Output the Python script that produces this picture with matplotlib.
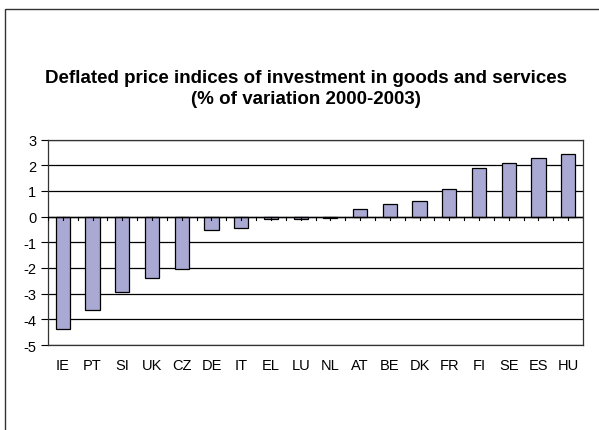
import matplotlib.pyplot as plt
import matplotlib.patches as mpatches
import numpy as np

plt.rcParams['font.family'] = ['Liberation Sans', 'DejaVu Sans']
plt.rcParams['axes.unicode_minus'] = False

# data
countries = ['IE', 'PT', 'SI', 'UK', 'CZ', 'DE', 'IT', 'EL', 'LU', 'NL',
             'AT', 'BE', 'DK', 'FR', 'FI', 'SE', 'ES', 'HU']
values = [-4.38, -3.62, -2.93, -2.41, -2.05, -0.52, -0.43, -0.1, -0.1, -0.05,
          0.29, 0.5, 0.62, 1.09, 1.9, 2.09, 2.27, 2.42]

fig = plt.figure(figsize=(5.99, 4.31), dpi=100)
ax = fig.add_axes([48/599, 1-346/431, (583-48)/599, (346-140.5)/431])

x = np.arange(len(countries))
ax.bar(x, values, width=0.48, color='#a9a9d3', edgecolor='black', linewidth=0.9, zorder=3)

ax.set_xlim(-0.5, len(countries)-0.5)
ax.set_ylim(-5, 3)
ax.set_yticks(range(-5, 4))
ax.yaxis.grid(True, color='black', linewidth=0.9, zorder=0)
ax.tick_params(axis='y', length=5, width=0.8, labelsize=10.5, pad=3.5, direction='out')

# category axis sits at zero, labels below the plot
ax.set_xticks([])
ax.axhline(0, color='black', linewidth=1, zorder=4)
tx = np.arange(-0.5, len(countries), 0.5)
for t in tx:
    ax.plot([t, t], [0, -0.15], color='black', linewidth=0.8, zorder=4)
for i, c in enumerate(countries):
    ax.text(i, -5.77, c, ha='center', va='center', fontsize=10.5)

for s in ax.spines.values():
    s.set_color('#333333')
    s.set_linewidth(0.9)

fig.text(306/599, 1-82.7/431, 'Deflated price indices of investment in goods and services',
         ha='center', va='baseline', fontsize=13.5, fontweight='bold')
fig.text(306/599, 1-103.5/431, '(% of variation 2000-2003)',
         ha='center', va='baseline', fontsize=13.5, fontweight='bold')

# outer chart frame
fig.patches.append(mpatches.Rectangle((5/599, -0.1), 1.1, 1-10/431+0.1,
                                      transform=fig.transFigure, fill=False,
                                      edgecolor='#333333', linewidth=1))

plt.savefig('out.png', dpi=100)
